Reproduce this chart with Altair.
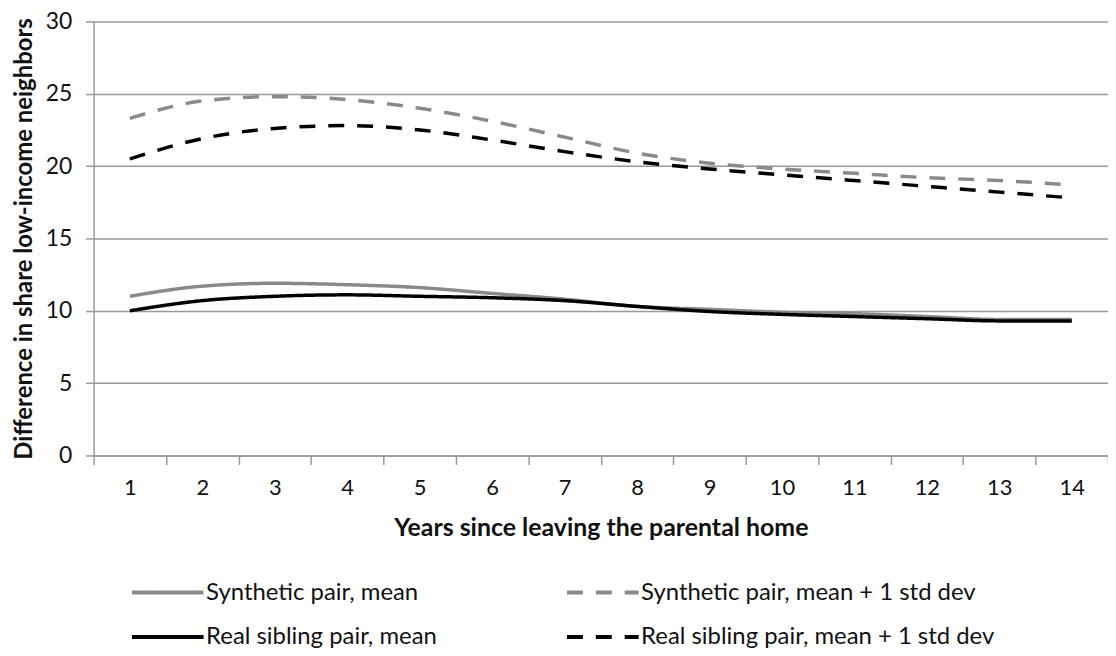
import altair as alt
import pandas as pd

years = list(range(1, 15))
synthetic_mean = [11.0, 11.7, 11.9, 11.8, 11.6, 11.2, 10.8, 10.3, 10.1, 9.9, 9.8, 9.6, 9.4, 9.4]
real_mean = [10.0, 10.7, 11.0, 11.1, 11.0, 10.9, 10.7, 10.3, 9.95, 9.75, 9.6, 9.45, 9.3, 9.3]
synthetic_sd = [23.3, 24.5, 24.8, 24.6, 24.0, 23.1, 22.0, 20.9, 20.2, 19.8, 19.5, 19.2, 19.0, 18.7]
real_sd = [20.5, 21.9, 22.6, 22.8, 22.5, 21.8, 21.0, 20.3, 19.8, 19.4, 19.0, 18.6, 18.2, 17.8]

series_names = [
    "Synthetic pair, mean",
    "Real sibling pair, mean",
    "Synthetic pair, mean + 1 std dev",
    "Real sibling pair, mean + 1 std dev",
]
series_values = [synthetic_mean, real_mean, synthetic_sd, real_sd]
series_colors = ["#8a8a8a", "#000000", "#8a8a8a", "#000000"]
series_dashes = [[1, 0], [1, 0], [16, 13], [16, 13]]

rows = []
for name, vals in zip(series_names, series_values):
    for yr, v in zip(years, vals):
        rows.append({"year": yr, "value": v, "series": name})
df = pd.DataFrame(rows)

FONT = "Lato"

chart = alt.Chart(df).mark_line(strokeWidth=3.5, interpolate="monotone").encode(
    x=alt.X("year:O", title="Years since leaving the parental home",
            axis=alt.Axis(labelAngle=0, tickBand="extent", domainColor="#999999",
                          domainWidth=1.5, tickColor="#999999", tickWidth=1.5,
                          tickSize=9, labelPadding=13, labelFontSize=22,
                          labelFont=FONT, labelColor="#111111",
                          titleFont=FONT, titleFontSize=25, titleFontWeight="bold",
                          titleColor="#111111", titlePadding=17, grid=False)),
    y=alt.Y("value:Q", title="Difference in share low-income neighbors",
            scale=alt.Scale(domain=[0, 30], nice=False),
            axis=alt.Axis(values=[0, 5, 10, 15, 20, 25, 30], domainColor="#999999",
                          domainWidth=1.5, tickColor="#999999", tickWidth=1.5,
                          tickSize=8, labelPadding=14, labelFontSize=23,
                          labelFont=FONT, labelColor="#111111",
                          gridColor="#999999", gridWidth=1.5,
                          titleFont=FONT, titleFontSize=24, titleFontWeight="bold",
                          titleColor="#111111", titlePadding=9)),
    color=alt.Color("series:N", scale=alt.Scale(domain=series_names, range=series_colors),
                    legend=alt.Legend(title=None, orient="none", legendX=50, legendY=549,
                                      columns=2, columnPadding=122, rowPadding=8,
                                      symbolType="M-1.6,0H1.6", symbolSize=2025,
                                      symbolStrokeWidth=4, labelFont=FONT,
                                      labelFontSize=24, labelColor="#111111",
                                      labelOffset=14, padding=0, labelLimit=400)),
    strokeDash=alt.StrokeDash("series:N",
                              scale=alt.Scale(domain=series_names, range=series_dashes),
                              legend=None),
).properties(
    width=1019, height=436,
    autosize=alt.AutoSizeParams(type="none"),
    padding={"left": 86, "top": 12, "right": 0, "bottom": 199},
).configure_view(stroke=None)

chart.save("out.html", embed_options={"renderer": "svg", "actions": False})
